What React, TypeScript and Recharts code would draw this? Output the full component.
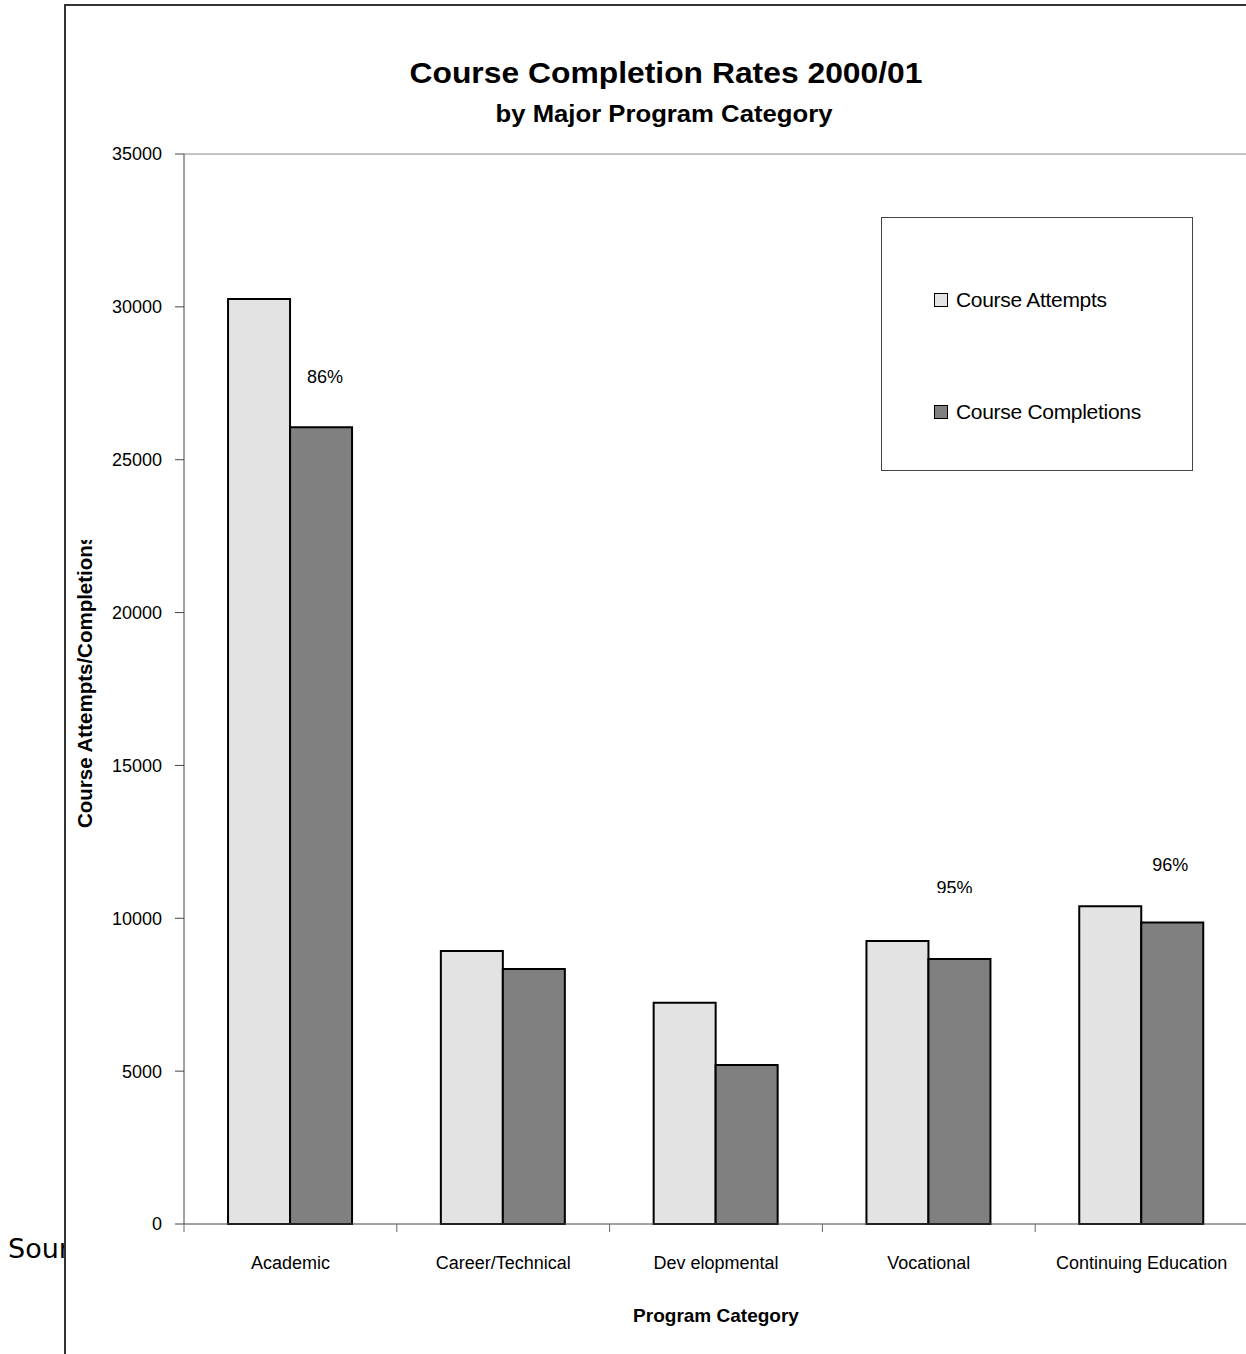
import React from "react";
import {
  BarChart,
  Bar,
  XAxis,
  YAxis,
  Legend,
  LabelList,
  ReferenceLine,
} from "recharts";

const categories = [
  "Academic",
  "Career/Technical",
  "Dev elopmental",
  "Vocational",
  "Continuing Education",
];
const attempts = [30260, 8930, 7240, 9260, 10390];
const completions = [26060, 8340, 5200, 8670, 9860];
const rateLabels = ["86%", "", "", "95%", "96%"];
const yTicks = [0, 5000, 10000, 15000, 20000, 25000, 30000, 35000];

// nudges for the hand-placed % labels (dx, height above bar top)
const labelNudge = [
  [4, 44],
  [0, 40],
  [0, 40],
  [-5, 65],
  [-2, 52],
];

const FONT = "'Liberation Sans', Arial, sans-serif";

const data = categories.map((name, i) => ({
  name,
  attempts: attempts[i],
  completions: completions[i],
}));

function CategoryTick(props: any) {
  const { x, y, payload } = props;
  const half = payload?.offset ?? 106.4;
  return (
    <g>
      <line x1={x - half} x2={x - half} y1={y - 8} y2={y} stroke="#666" />
      <text
        x={x}
        y={y + 37}
        textAnchor="middle"
        fontSize={18}
        fontFamily={FONT}
        fill="#000"
      >
        {payload.value}
      </text>
    </g>
  );
}

function RateLabel(props: any) {
  const { x, y, width, index } = props;
  const text = rateLabels[index];
  if (!text) return null;
  const [dx, up] = labelNudge[index];
  // the 95% label is cut off by its text box in the original
  const clip = index === 3 ? "url(#ratelabclip)" : undefined;
  return (
    <g clipPath={clip}>
      <defs>
        <clipPath id="ratelabclip">
          <rect x={0} y={0} width={1300} height={893} />
        </clipPath>
      </defs>
      <text
        x={x + width / 2 + dx}
        y={y - up}
        textAnchor="middle"
        fontSize={18}
        fontFamily={FONT}
        fill="#000"
      >
        {text}
      </text>
    </g>
  );
}

function LegendBox() {
  const items = [
    { label: "Course Attempts", color: "#e3e3e3", top: 70 },
    { label: "Course Completions", color: "#808080", top: 182 },
  ];
  return (
    <div
      style={{
        position: "relative",
        width: 312,
        height: 254,
        border: "1px solid #444",
        boxSizing: "border-box",
        background: "#fff",
        fontFamily: FONT,
      }}
    >
      {items.map((it) => (
        <div
          key={it.label}
          style={{
            position: "absolute",
            left: 52,
            top: it.top,
            display: "flex",
            alignItems: "center",
            whiteSpace: "nowrap",
          }}
        >
          <span
            style={{
              width: 12,
              height: 12,
              background: it.color,
              border: "1.5px solid #000",
              marginRight: 8,
            }}
          />
          <span style={{ fontSize: 21, color: "#000", letterSpacing: -0.3 }}>
            {it.label}
          </span>
        </div>
      ))}
    </div>
  );
}

export default function App() {
  return (
    <div
      style={{
        position: "absolute",
        left: 0,
        top: 0,
        width: 1246,
        height: 1354,
        overflow: "hidden",
        background: "#fff",
      }}
    >
      <svg
        width={1246}
        height={1354}
        style={{ position: "absolute", left: 0, top: 0 }}
      >
        <text
          x={8}
          y={1258}
          fontSize={27}
          fontFamily="'DejaVu Sans', sans-serif"
          fill="#000"
        >
          Source:
        </text>
        <rect x={65} y={5} width={1300} height={1400} fill="#fff" />
        <line x1={65} y1={5} x2={65} y2={1354} stroke="#333" strokeWidth={2} />
        <line x1={64} y1={5} x2={1246} y2={5} stroke="#333" strokeWidth={2} />
        <text
          x={666}
          y={83}
          textAnchor="middle"
          fontSize={30}
          fontWeight="bold"
          fontFamily={FONT}
          textLength={513}
          lengthAdjust="spacingAndGlyphs"
        >
          Course Completion Rates 2000/01
        </text>
        <text
          x={664}
          y={122}
          textAnchor="middle"
          fontSize={24}
          fontWeight="bold"
          fontFamily={FONT}
          textLength={337}
          lengthAdjust="spacingAndGlyphs"
        >
          by Major Program Category
        </text>
      </svg>
      <div style={{ position: "absolute", left: 0, top: 0 }}>
        <BarChart
          width={1260}
          height={1354}
          data={data}
          margin={{ top: 154, right: 12, bottom: 0, left: 100 }}
          barCategoryGap="20.7%"
          barGap={0}
        >
          <ReferenceLine y={35000} stroke="#888" strokeWidth={1} />
          <XAxis
            dataKey="name"
            height={130}
            tickLine={false}
            tickSize={8}
            tickMargin={0}
            axisLine={{ stroke: "#444" }}
            interval={0}
            tick={<CategoryTick />}
            label={{
              content: (p: any) => (
                <text
                  x={p.viewBox.x + p.viewBox.width / 2}
                  y={p.viewBox.y + 98}
                  textAnchor="middle"
                  fontSize={19}
                  fontWeight="bold"
                  fontFamily={FONT}
                  fill="#000"
                >
                  Program Category
                </text>
              ),
            }}
          />
          <YAxis
            width={84}
            domain={[0, 35000]}
            ticks={yTicks}
            interval={0}
            tickSize={9}
            tickMargin={13}
            axisLine={{ stroke: "#444" }}
            tickLine={{ stroke: "#444" }}
            tick={{ fontSize: 18, fontFamily: FONT, fill: "#000" }}
            label={{
              content: (p: any) => {
                const bx = p.viewBox.x - 8;
                const by = p.viewBox.y + p.viewBox.height - 396;
                return (
                  <g clipPath="url(#ylabclip)">
                    <defs>
                      <clipPath id="ylabclip">
                        <rect x={0} y={540} width={180} height={800} />
                      </clipPath>
                    </defs>
                    <text
                      x={bx}
                      y={by}
                      transform={`rotate(-90, ${bx}, ${by})`}
                      fontSize={20.5}
                      fontWeight="bold"
                      fontFamily={FONT}
                      fill="#000"
                    >
                      Course Attempts/Completions
                    </text>
                  </g>
                );
              },
            }}
          />
          <Legend
            layout="vertical"
            align="center"
            verticalAlign="middle"
            wrapperStyle={{ left: 881, top: 217, width: 312, height: 254 }}
            content={() => <LegendBox />}
          />
          <Bar
            dataKey="attempts"
            name="Course Attempts"
            fill="#e3e3e3"
            stroke="#000"
            strokeWidth={2}
            isAnimationActive={false}
          />
          <Bar
            dataKey="completions"
            name="Course Completions"
            fill="#808080"
            stroke="#000"
            strokeWidth={2}
            isAnimationActive={false}
          >
            <LabelList dataKey="completions" content={<RateLabel />} />
          </Bar>
        </BarChart>
      </div>
    </div>
  );
}
